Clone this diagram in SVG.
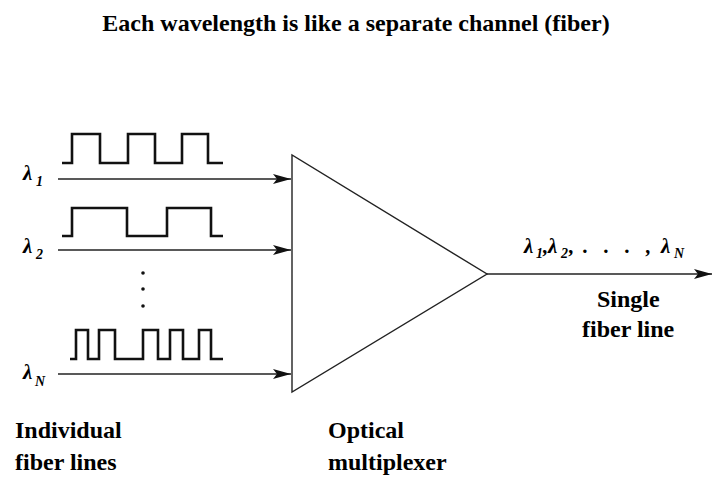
<svg xmlns="http://www.w3.org/2000/svg" width="712" height="479" viewBox="0 0 712 479">
  <defs>
    <marker id="arr" markerUnits="userSpaceOnUse" markerWidth="20" markerHeight="12" refX="18" refY="5.5" orient="auto">
      <path d="M0,0.5 L18,5.5 L0,10.5 L4,5.5 z" fill="#111"/>
    </marker>
  </defs>

  <text font-family="Liberation Serif" font-weight="bold" font-size="24" x="356" y="31" text-anchor="middle">Each wavelength is like a separate channel (fiber)</text>

  <g id="connectors" fill="none" stroke="#222" stroke-width="1.4">
    <line x1="58" y1="179" x2="291" y2="179" marker-end="url(#arr)"/>
    <line x1="58" y1="250" x2="291" y2="250" marker-end="url(#arr)"/>
    <line x1="58" y1="374" x2="291" y2="374" marker-end="url(#arr)"/>
    <line x1="487" y1="274" x2="712" y2="274" marker-end="url(#arr)"/>
  </g>

  <g id="input1">
    <path fill="none" stroke="#111" stroke-width="2.6" d="M62,163 H72 V134 H100 V163 H128 V134 H155 V163 H182 V134 H208 V163 H223"/>
    <text font-family="Liberation Serif" font-weight="bold" font-style="italic" font-size="21" x="23" y="180">λ</text>
    <text font-family="Liberation Serif" font-weight="bold" font-style="italic" font-size="14" x="36" y="186">1</text>
  </g>

  <g id="input2">
    <path fill="none" stroke="#111" stroke-width="2.6" d="M62,236 H72 V208 H127 V236 H167 V208 H211 V236 H223"/>
    <text font-family="Liberation Serif" font-weight="bold" font-style="italic" font-size="21" x="23" y="253">λ</text>
    <text font-family="Liberation Serif" font-weight="bold" font-style="italic" font-size="14" x="36" y="259">2</text>
  </g>

  <g id="ellipsis" fill="#111">
    <circle cx="143" cy="273" r="1.8"/>
    <circle cx="143" cy="289" r="1.8"/>
    <circle cx="143" cy="306" r="1.8"/>
  </g>

  <g id="inputN">
    <path fill="none" stroke="#111" stroke-width="2.6" d="M70,359 H76 V330 H88 V359 H99 V330 H115 V359 H143 V330 H158 V359 H170 V330 H183 V359 H199 V330 H211 V359 H223"/>
    <text font-family="Liberation Serif" font-weight="bold" font-style="italic" font-size="21" x="23" y="379">λ</text>
    <text font-family="Liberation Serif" font-weight="bold" font-style="italic" font-size="14" x="35" y="386">N</text>
  </g>

  <g id="multiplexer">
    <polygon fill="#fff" stroke="#222" stroke-width="1.4" points="292,155 292,392 487,274"/>
  </g>

  <g id="output-label">
    <text font-family="Liberation Serif" font-weight="bold" font-style="italic" font-size="21" x="524" y="253">λ</text>
    <text font-family="Liberation Serif" font-weight="bold" font-style="italic" font-size="14" x="536" y="258">1</text>
    <text font-family="Liberation Serif" font-weight="bold" font-style="italic" font-size="21" x="543" y="253">,</text>
    <text font-family="Liberation Serif" font-weight="bold" font-style="italic" font-size="21" x="548" y="253">λ</text>
    <text font-family="Liberation Serif" font-weight="bold" font-style="italic" font-size="14" x="561" y="258">2</text>
    <text font-family="Liberation Serif" font-weight="bold" font-style="italic" font-size="21" x="569" y="253">,</text>
    <text font-family="Liberation Serif" font-weight="bold" font-style="italic" font-size="21" x="583" y="253">.</text>
    <text font-family="Liberation Serif" font-weight="bold" font-style="italic" font-size="21" x="604" y="253">.</text>
    <text font-family="Liberation Serif" font-weight="bold" font-style="italic" font-size="21" x="625" y="253">.</text>
    <text font-family="Liberation Serif" font-weight="bold" font-style="italic" font-size="21" x="646" y="253">,</text>
    <text font-family="Liberation Serif" font-weight="bold" font-style="italic" font-size="21" x="661" y="253">λ</text>
    <text font-family="Liberation Serif" font-weight="bold" font-style="italic" font-size="14" x="674" y="258">N</text>
  </g>

  <g id="labels">
    <text font-family="Liberation Serif" font-weight="bold" font-size="24" x="597" y="307">Single</text>
    <text font-family="Liberation Serif" font-weight="bold" font-size="24" x="582" y="337">fiber line</text>
    <text font-family="Liberation Serif" font-weight="bold" font-size="24" x="15" y="438">Individual</text>
    <text font-family="Liberation Serif" font-weight="bold" font-size="24" x="15" y="470">fiber lines</text>
    <text font-family="Liberation Serif" font-weight="bold" font-size="24" x="328" y="438">Optical</text>
    <text font-family="Liberation Serif" font-weight="bold" font-size="24" x="328" y="470">multiplexer</text>
  </g>
</svg>
